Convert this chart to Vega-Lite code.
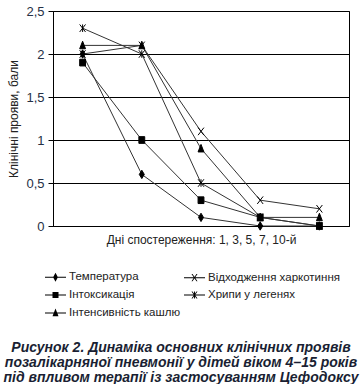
{
  "$schema": "https://vega.github.io/schema/vega-lite/v6.json",
  "autosize": "none",
  "width": 296,
  "height": 215,
  "padding": {"left": 53, "top": 11, "right": 15, "bottom": 158},
  "background": "white",
  "title": {
    "text": ["Рисунок 2. Динаміка основних клінічних проявів", "позалікарняної пневмонії у дітей віком 4–15 років", "під впливом терапії із застосуванням Цефодоксу"],
    "orient": "bottom",
    "anchor": "middle",
    "frame": "group",
    "dx": -20,
    "font": "Liberation Sans",
    "fontSize": 14,
    "fontWeight": "bold",
    "fontStyle": "italic",
    "lineHeight": 15,
    "color": "#1a1f33",
    "offset": 15
  },
  "config": {
    "view": {"stroke": "black", "strokeWidth": 1},
    "font": "Liberation Sans"
  },
  "resolve": {"scale": {"shape": "independent"}, "legend": {"shape": "independent"}},
  "data": {
    "values": [
      {"day": "1", "series": "Температура", "v": 2.0},
      {"day": "3", "series": "Температура", "v": 0.6},
      {"day": "5", "series": "Температура", "v": 0.1},
      {"day": "7", "series": "Температура", "v": 0.0},
      {"day": "10", "series": "Температура", "v": 0.0},
      {"day": "1", "series": "Інтоксикація", "v": 1.9},
      {"day": "3", "series": "Інтоксикація", "v": 1.0},
      {"day": "5", "series": "Інтоксикація", "v": 0.3},
      {"day": "7", "series": "Інтоксикація", "v": 0.1},
      {"day": "10", "series": "Інтоксикація", "v": 0.0},
      {"day": "1", "series": "Інтенсивність кашлю", "v": 2.1},
      {"day": "3", "series": "Інтенсивність кашлю", "v": 2.1},
      {"day": "5", "series": "Інтенсивність кашлю", "v": 0.9},
      {"day": "7", "series": "Інтенсивність кашлю", "v": 0.1},
      {"day": "10", "series": "Інтенсивність кашлю", "v": 0.1},
      {"day": "1", "series": "Відходження харкотиння", "v": 2.0},
      {"day": "3", "series": "Відходження харкотиння", "v": 2.1},
      {"day": "5", "series": "Відходження харкотиння", "v": 1.1},
      {"day": "7", "series": "Відходження харкотиння", "v": 0.3},
      {"day": "10", "series": "Відходження харкотиння", "v": 0.2},
      {"day": "1", "series": "Хрипи у легенях", "v": 2.3},
      {"day": "3", "series": "Хрипи у легенях", "v": 2.0},
      {"day": "5", "series": "Хрипи у легенях", "v": 0.5},
      {"day": "7", "series": "Хрипи у легенях", "v": 0.1},
      {"day": "10", "series": "Хрипи у легенях", "v": 0.0}
    ]
  },
  "encoding": {
    "x": {
      "field": "day",
      "type": "ordinal",
      "sort": ["1", "3", "5", "7", "10"],
      "scale": {"type": "point", "padding": 0.5},
      "axis": {
        "labels": false,
        "ticks": false,
        "domain": true,
        "domainColor": "black",
        "grid": false,
        "title": "Дні спостереження: 1, 3, 5, 7, 10-й",
        "titleFont": "Liberation Sans",
        "titleFontSize": 12,
        "titleFontWeight": "normal",
        "titleColor": "#222",
        "titlePadding": 8
      }
    },
    "y": {
      "field": "v",
      "type": "quantitative",
      "scale": {"domain": [0, 2.5], "nice": false},
      "axis": {
        "values": [0, 0.5, 1, 1.5, 2, 2.5],
        "format": "~g",
        "labelExpr": "replace(datum.label, '.', ',')",
        "labelFont": "Liberation Sans",
        "labelFontSize": 13,
        "labelColor": "#253045",
        "labelPadding": 4,
        "tickSize": 5,
        "tickColor": "black",
        "domainColor": "black",
        "gridColor": "black",
        "gridOpacity": 1,
        "title": "Клінічні прояви, бали",
        "titleFont": "Liberation Sans",
        "titleFontSize": 12,
        "titleFontWeight": "normal",
        "titleColor": "#222",
        "titlePadding": 5
      }
    }
  },
  "layer": [
    {
      "mark": {"type": "line", "color": "#333", "strokeWidth": 1},
      "encoding": {"detail": {"field": "series"}}
    },
    {
      "mark": {"type": "point", "filled": false, "fill": "black", "fillOpacity": 1, "stroke": "black", "strokeWidth": 1, "size": 70, "opacity": 1},
      "encoding": {
        "shape": {
          "field": "series",
          "type": "nominal",
          "legend": null,
          "scale": {
            "domain": ["Температура", "Інтоксикація", "Інтенсивність кашлю", "Відходження харкотиння", "Хрипи у легенях"],
            "range": [
              "M0,-1L0.6,0L0,1L-0.6,0Z",
              "M-0.7,-0.8H0.7V0.8H-0.7Z",
              "M0,-1L0.7,0.8H-0.7Z",
              "M-0.7,-0.9L0.7,0.9M-0.7,0.9L0.7,-0.9",
              "M-0.7,-0.9L0.7,0.9M-0.7,0.9L0.7,-0.9M0,-0.9V0.9"
            ]
          }
        }
      }
    },
    {
      "transform": [{"filter": "false"}],
      "mark": {"type": "point", "filled": true, "color": "black", "opacity": 1, "size": 144},
      "encoding": {
        "shape": {
          "field": "series",
          "type": "nominal",
          "scale": {
            "domain": ["Температура", "Інтоксикація", "Інтенсивність кашлю", "Відходження харкотиння", "Хрипи у легенях"],
            "range": [
              "M-1,-0.08H2.5V0.08H-1Z M0.75,-0.75L1.15,0L0.75,0.75L0.35,0Z",
              "M-1,-0.08H2.5V0.08H-1Z M0.25,-0.5H1.25V0.5H0.25Z",
              "M-1,-0.08H2.5V0.08H-1Z M0.75,-0.75L1.25,0.55H0.25Z",
              "M-1,-0.08H2.5V0.08H-1Z M0.25,-0.6H0.42L1.25,0.6H1.08Z M1.08,-0.6H1.25L0.42,0.6H0.25Z",
              "M-1,-0.08H2.5V0.08H-1Z M0.25,-0.6H0.42L1.25,0.6H1.08Z M1.08,-0.6H1.25L0.42,0.6H0.25Z M0.67,-0.6H0.83V0.6H0.67Z"
            ]
          },
          "legend": {
            "orient": "none",
            "legendX": -15,
            "legendY": 253,
            "direction": "vertical",
            "columns": 2,
            "title": null,
            "padding": 6,
            "symbolSize": 144,
            "symbolFillColor": "black",
            "symbolOpacity": 1,
            "labelFont": "Liberation Sans",
            "labelFontSize": 11.5,
            "labelColor": "#222",
            "labelOffset": 11,
            "rowPadding": 3,
            "columnPadding": 0
          }
        }
      }
    }
  ]
}
